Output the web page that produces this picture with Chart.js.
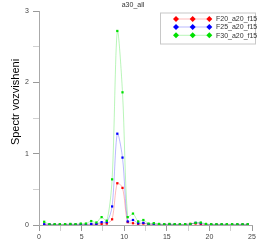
<!DOCTYPE html>
<html><head><meta charset="utf-8">
<script src="https://cdn.jsdelivr.net/npm/chart.js@4/dist/chart.umd.min.js"></script>
<style>html,body{margin:0;padding:0;background:#fff;}canvas{display:block;}</style>
</head><body>
<canvas id="c" width="269" height="250"></canvas>
<script>
const chartTitle = "a30_all";
const yTitle = "Spectr vozvisheni";
const freq = [0.61,1.23,1.84,2.45,3.06,3.68,4.29,4.90,5.51,6.13,6.74,7.35,7.96,8.58,9.19,9.80,10.41,11.03,11.64,12.25,12.86,13.48,14.09,14.70,15.31,15.93,16.54,17.15,17.76,18.38,18.99,19.60,20.21,20.83,21.44,22.05,22.66,23.28,23.89,24.50];
const seriesNames = ["F20_a20_f15","F25_a20_f15","F30_a20_f15"];
const f20 = [0.005,0.004,0.004,0.004,0.005,0.005,0.004,0.005,0.005,0.008,0.008,0.015,0.02,0.08,0.585,0.52,0.04,0.025,0.01,0.02,0.01,0.006,0.005,0.005,0.005,0.005,0.005,0.006,0.015,0.02,0.01,0.005,0.004,0.004,0.004,0.004,0.004,0.004,0.004,0.004];
const f25 = [0.01,0.006,0.005,0.005,0.006,0.008,0.006,0.008,0.008,0.015,0.015,0.04,0.04,0.26,1.28,0.945,0.05,0.07,0.025,0.03,0.01,0.015,0.008,0.006,0.008,0.006,0.006,0.008,0.012,0.03,0.025,0.008,0.005,0.005,0.005,0.005,0.005,0.005,0.005,0.005];
const f30 = [0.045,0.01,0.01,0.01,0.01,0.015,0.01,0.02,0.02,0.055,0.035,0.11,0.06,0.64,2.72,1.86,0.11,0.16,0.05,0.07,0.02,0.025,0.015,0.01,0.015,0.01,0.01,0.01,0.015,0.03,0.035,0.015,0.01,0.01,0.01,0.01,0.01,0.01,0.01,0.01];
const xTicksLabelled = [0,5,10,15,20,25];
const yTicksLabelled = [0,1,2,3];

const pointColors = ["#ff0000","#0000ff","#00e000"];
const lineColors = ["rgba(255,0,0,0.28)","rgba(0,0,255,0.28)","rgba(0,220,0,0.28)"];
const values = [f20,f25,f30];
const FONT = "'Liberation Sans', Arial, sans-serif";

function mk(i){
  return {
    label: seriesNames[i],
    data: freq.map((x,j)=>({x:x,y:values[i][j]})),
    borderColor: lineColors[i],
    borderWidth: 1,
    backgroundColor: pointColors[i],
    pointBackgroundColor: pointColors[i],
    pointBorderWidth: 0,
    pointStyle: 'rect',
    pointRadius: 1.6,
    tension: 0.3,
    order: 3-i
  };
}

const decor = {
  id:'decor',
  afterDraw(chart){
    const ctx = chart.ctx;
    ctx.save();
    // title
    ctx.fillStyle = '#333';
    ctx.font = "7px " + FONT;
    ctx.textAlign = 'center'; ctx.textBaseline = 'middle';
    ctx.fillText(chartTitle, 133, 5);
    // y title
    ctx.save();
    ctx.translate(16, 102);
    ctx.rotate(-Math.PI/2);
    ctx.fillStyle = '#000';
    ctx.font = "11px " + FONT;
    ctx.fillText(yTitle, 0, 0);
    ctx.restore();
    // legend
    const bx=160, by=12.5, bw=95, bh=31;
    ctx.strokeStyle = '#c8c8c8'; ctx.lineWidth = 1;
    ctx.strokeRect(bx+0.5, by+0.5, bw, bh);
    const rows=[19,27,35.3];
    ctx.font = "7px " + FONT;
    ctx.textAlign='left';
    chart.data.datasets.forEach((ds,i)=>{
      const y=rows[i];
      ctx.strokeStyle = lineColors[i];
      ctx.beginPath(); ctx.moveTo(174,y); ctx.lineTo(211,y); ctx.stroke();
      ctx.fillStyle = pointColors[i];
      [176,192.7,209.3].forEach(x=>{
        ctx.beginPath();
        ctx.moveTo(x, y-3); ctx.lineTo(x+3, y); ctx.lineTo(x, y+3); ctx.lineTo(x-3, y); ctx.closePath();
        ctx.fill();
      });
      ctx.fillStyle='#333';
      ctx.fillText(ds.label, 216, y+0.5);
    });
    ctx.restore();
  }
};

new Chart(document.getElementById('c'), {
  type:'line',
  data:{ datasets:[mk(0),mk(1),mk(2)] },
  options:{
    responsive:false,
    animation:false,
    layout:{padding:{top:11,right:17,left:0,bottom:0}},
    plugins:{legend:{display:false},tooltip:{enabled:false},title:{display:false}},
    scales:{
      x:{
        type:'linear', min:0, max:25,
        afterFit:(s)=>{ s.height = 25; },
        afterBuildTicks:(s)=>{ const t=[]; for(let v=0; v<=25; v+=2.5) t.push({value:v}); s.ticks=t; },
        ticks:{ autoSkip:false, maxRotation:0, padding:2, color:'#444', font:{size:7, family:FONT},
          callback:(v)=> xTicksLabelled.includes(v) ? String(v) : '' },
        grid:{ drawOnChartArea:false, drawTicks:true, tickLength:6,
          tickColor:(c)=> (c.tick && xTicksLabelled.includes(c.tick.value)) ? '#999' : '#d0d0d0' },
        border:{ display:true, color:'#aaa' }
      },
      y:{
        min:0, max:3,
        afterFit:(s)=>{ s.width = 39; },
        afterBuildTicks:(s)=>{ const t=[]; for(let v=0; v<=3; v+=0.5) t.push({value:v}); s.ticks=t; },
        ticks:{ autoSkip:false, padding:4, color:'#444', font:{size:7, family:FONT},
          callback:(v)=> yTicksLabelled.includes(v) ? String(v) : '' },
        grid:{ drawOnChartArea:false, drawTicks:true, tickLength:6,
          tickColor:(c)=> (c.tick && yTicksLabelled.includes(c.tick.value)) ? '#999' : '#d0d0d0' },
        border:{ display:true, color:'#aaa' }
      }
    }
  },
  plugins:[decor]
});
</script>
</body></html>
